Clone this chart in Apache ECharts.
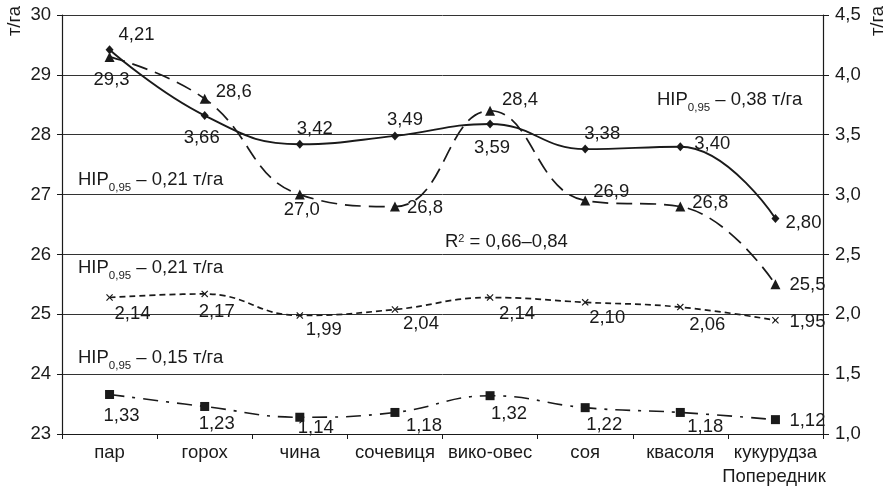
<!DOCTYPE html>
<html><head><meta charset="utf-8">
<script src="https://cdn.jsdelivr.net/npm/echarts@6/dist/echarts.min.js"></script>
<style>html,body{margin:0;padding:0;background:#fff}#c{width:890px;height:492px}</style>
</head><body><div id="c"></div>
<script>
const categories = ['пар','горох','чина','сочевиця','вико-овес','соя','квасоля','кукурудза'];
const seriesDiamond = [4.21,3.66,3.42,3.49,3.59,3.38,3.40,2.80];
const seriesTriangle = [29.3,28.6,27.0,26.8,28.4,26.9,26.8,25.5];
const seriesCross = [2.14,2.17,1.99,2.04,2.14,2.10,2.06,1.95];
const seriesSquare = [1.33,1.23,1.14,1.18,1.32,1.22,1.18,1.12];
const leftTicks = [23,24,25,26,27,28,29,30];
const rightTicks = [1.0,1.5,2.0,2.5,3.0,3.5,4.0,4.5];

// label placement (style, not data)
const diamondOffsets = [[27,-15],[-3,22],[15,-15],[10,-16],[2,24],[17,-15],[32,-3],[28,4]];
const triangleOffsets = [[2,23],[29,-7],[2,15],[30,1],[30,-11],[26,-9],[30,-4],[32,1]];
const crossOffsets = [[23,16],[12,18],[24,14],[26,14],[27,16],[22,16],[27,18],[32,2]];
const squareOffsets = [[12,21],[12,17],[16,11],[29,13],[19,18],[19,17],[25,14],[32,1]];

const FONT = 'Liberation Sans, Arial, sans-serif';
const INK = '#1a1a1a';
const FS = 18.5;

function fmt(v, d){ return v.toFixed(d).replace('.', ','); }
function mkData(vals, offs, d){
  return vals.map((v,i)=>({value:v, label:{offset:offs[i], formatter: fmt(v,d)}}));
}
const crossPath = 'path://M0,1.2 L1.2,0 L5,3.8 L8.8,0 L10,1.2 L6.2,5 L10,8.8 L8.8,10 L5,6.2 L1.2,10 L0,8.8 L3.8,5 Z';

function baseSeries(name, vals, offs, d, yIdx, symbol, size, dash, w){
  return {
    name, type:'line', yAxisIndex:yIdx, smooth:0.45,
    data: mkData(vals, offs, d),
    symbol, symbolSize:size,
    itemStyle:{color:INK},
    lineStyle:{color:INK, width:w, type:dash},
    label:{show:true, position:'inside', color:INK, fontFamily:FONT, fontSize:FS},
    emphasis:{disabled:true}, animation:false, z:3
  };
}

function hip(x, y, val){
  return {
    type:'text', x, y, z:10,
    style:{
      text:'{a|НІР}{s|0,95}{a| – '+val+' т/га}',
      textVerticalAlign:'middle', textAlign:'left',
      rich:{
        a:{fontFamily:FONT, fontSize:FS, fill:INK, lineHeight:28, verticalAlign:'middle'},
        s:{fontFamily:FONT, fontSize:11.5, fill:INK, lineHeight:11, verticalAlign:'bottom'}
      }
    }
  };
}

const chart = echarts.init(document.getElementById('c'), null, {renderer:'canvas'});
chart.setOption({
  animation:false,
  backgroundColor:'#fff',
  grid:{left:62, right:67, top:15, bottom:58, containLabel:false, outerBoundsMode:'none'},
  xAxis:{
    type:'category', data:categories, boundaryGap:true,
    axisLine:{lineStyle:{color:INK, width:1.2}},
    axisTick:{show:true, length:5, lineStyle:{color:INK}},
    axisLabel:{color:INK, fontFamily:FONT, fontSize:FS, margin:9, interval:0},
    splitLine:{show:false}
  },
  yAxis:[
    {type:'value', min:leftTicks[0], max:leftTicks[leftTicks.length-1], interval:leftTicks[1]-leftTicks[0],
     axisLine:{show:true, lineStyle:{color:INK, width:1.2}},
     axisTick:{show:true, length:5, lineStyle:{color:INK}},
     axisLabel:{color:INK, fontFamily:FONT, fontSize:FS, margin:11},
     splitLine:{show:true, lineStyle:{color:'#333', width:1}}},
    {type:'value', position:'right', min:rightTicks[0], max:rightTicks[rightTicks.length-1], interval:rightTicks[1]-rightTicks[0],
     axisLine:{show:true, lineStyle:{color:INK, width:1.2}},
     axisTick:{show:true, length:6, lineStyle:{color:INK}},
     axisLabel:{color:INK, fontFamily:FONT, fontSize:FS, margin:12, formatter:v=>fmt(v,1)},
     splitLine:{show:false}}
  ],
  series:[
    baseSeries('diamond', seriesDiamond, diamondOffsets, 2, 1, 'diamond', [8,9], 'solid', 1.9),
    baseSeries('triangle', seriesTriangle, triangleOffsets, 1, 0, 'triangle', 10, [16,8], 1.7),
    baseSeries('cross', seriesCross, crossOffsets, 2, 1, crossPath, 7, [6,4], 1.7),
    baseSeries('square', seriesSquare, squareOffsets, 2, 1, 'rect', 9, [15,8,3,8], 1.6)
  ],
  graphic:[
    hip(657, 100, '0,38'),
    hip(78, 180, '0,21'),
    hip(78, 268, '0,21'),
    hip(78, 358, '0,15'),
    {type:'text', x:445, y:242, z:10, style:{
      text:'{a|R}{p|2}{a| = 0,66–0,84}', textVerticalAlign:'middle', textAlign:'left',
      rich:{
        a:{fontFamily:FONT, fontSize:FS, fill:INK, lineHeight:18, verticalAlign:'middle'},
        p:{fontFamily:FONT, fontSize:11, fill:INK, lineHeight:11, verticalAlign:'top'}
      }}},
    {type:'text', x:15, y:21, rotation:Math.PI/2, z:10, style:{text:'т/га', font:FS+'px '+FONT, fill:INK, textAlign:'center', textVerticalAlign:'middle'}},
    {type:'text', x:878, y:21, rotation:Math.PI/2, z:10, style:{text:'т/га', font:FS+'px '+FONT, fill:INK, textAlign:'center', textVerticalAlign:'middle'}},
    {type:'text', x:774, y:477, z:10, style:{text:'Попередник', font:FS+'px '+FONT, fill:INK, textAlign:'center', textVerticalAlign:'middle'}}
  ]
});
</script></body></html>
